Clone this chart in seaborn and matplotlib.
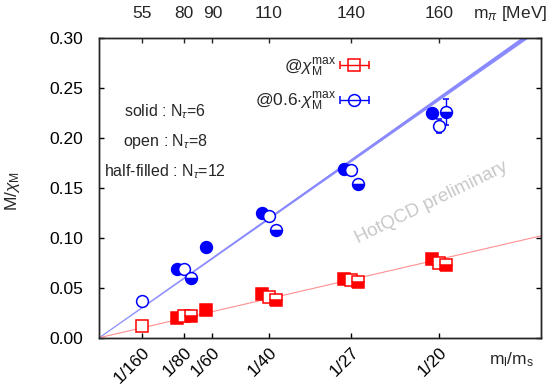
import numpy as np
import pandas as pd
import matplotlib
matplotlib.use("Agg")
import matplotlib.pyplot as plt
from matplotlib.container import ErrorbarContainer
from matplotlib.legend_handler import HandlerErrorbar
import seaborn as sns

# ---------------- data ----------------
ratio_labels = ["1/160", "1/80", "1/60", "1/40", "1/27", "1/20"]
ratio_values = [1/160, 1/80, 1/60, 1/40, 1/27, 1/20]
mpi_labels = ["55", "80", "90", "110", "140", "160"]

# @0.6 chi_M^max (blue circles)
blue_nt6_x = [1/80, 1/60, 1/40, 1/27, 1/20]
blue_nt6_y = [0.0684, 0.0904, 0.1244, 0.1687, 0.2244]
blue_nt6_e = [0.002, 0.002, 0.002, 0.002, 0.002]
blue_nt8_x = [1/160, 1/80, 1/40, 1/27, 1/20]
blue_nt8_y = [0.037, 0.0684, 0.122, 0.1677, 0.212]
blue_nt8_e = [0.003, 0.003, 0.003, 0.003, 0.007]
blue_nt12_x = [1/80, 1/40, 1/27, 1/20]
blue_nt12_y = [0.0594, 0.1077, 0.1537, 0.226]
blue_nt12_e = [0.003, 0.003, 0.003, 0.013]

# @chi_M^max (red squares)
red_nt6_x = [1/80, 1/60, 1/40, 1/27, 1/20]
red_nt6_y = [0.020, 0.0277, 0.0434, 0.059, 0.0784]
red_nt6_e = [0.001, 0.001, 0.001, 0.001, 0.001]
red_nt8_x = [1/160, 1/80, 1/40, 1/27, 1/20]
red_nt8_y = [0.012, 0.022, 0.041, 0.0577, 0.075]
red_nt8_e = [0.002, 0.002, 0.002, 0.002, 0.002]
red_nt12_x = [1/80, 1/40, 1/27, 1/20]
red_nt12_y = [0.022, 0.0377, 0.056, 0.073]
red_nt12_e = [0.002, 0.002, 0.002, 0.002]

# linear fits through the origin
blue_fit_slope = 4.79
blue_fit_band = 0.009    # relative half-width of band
red_fit_slope = 1.565

# ---------------- style ----------------
sns.set_style("ticks")
plt.rcParams["font.family"] = ["Liberation Sans", "DejaVu Sans"]
plt.rcParams["mathtext.fontset"] = "custom"
plt.rcParams["mathtext.rm"] = "Liberation Sans"
plt.rcParams["mathtext.it"] = "Liberation Sans:italic"
plt.rcParams["mathtext.sf"] = "Liberation Sans"

BLUE = "#0000ff"
RED = "#ff0000"
DODGE = 0.001
FS = 12.5

fig = plt.figure(figsize=(5.55, 3.85), dpi=100)
ax = fig.add_axes([0.179, 0.1229, 0.795, 0.7792])

# fit lines
fit_x = np.linspace(0, 0.065, 100)
fit_df = pd.DataFrame({"x": fit_x,
                       "blue": blue_fit_slope * fit_x,
                       "red": red_fit_slope * fit_x})
ax.fill_between(fit_x, fit_df["blue"] * (1 - blue_fit_band),
                fit_df["blue"] * (1 + blue_fit_band),
                color="#8080ff", alpha=0.9, lw=0, zorder=1)
sns.lineplot(data=fit_df, x="x", y="blue", ax=ax, color="#8888ff",
             lw=0.8, zorder=1)
sns.lineplot(data=fit_df, x="x", y="red", ax=ax, color="#ff9090",
             lw=0.8, zorder=1)

ms_c = 8.5
ms_s = 8.0


def draw(xs, ys, es, off, color, marker, kind):
    xs = np.asarray(xs) + off
    kw = dict(fmt=marker, color=color, ecolor=color, elinewidth=1.0,
              capsize=2.5, capthick=1.0, markersize=ms_c if marker == "o" else ms_s,
              markeredgewidth=1.1, zorder=3)
    if kind == "solid":
        kw.update(mfc=color, mec=color)
    elif kind == "open":
        kw.update(mfc="white", mec=color)
    else:
        kw.update(mfc=color, mec=color, fillstyle="bottom",
                  markerfacecoloralt="white")
    ax.errorbar(xs, ys, yerr=es, **kw)


draw(red_nt6_x, red_nt6_y, red_nt6_e, -DODGE, RED, "s", "solid")
draw(red_nt8_x, red_nt8_y, red_nt8_e, 0, RED, "s", "open")
draw(red_nt12_x, red_nt12_y, red_nt12_e, DODGE, RED, "s", "half")
draw(blue_nt6_x, blue_nt6_y, blue_nt6_e, -DODGE, BLUE, "o", "solid")
draw(blue_nt8_x, blue_nt8_y, blue_nt8_e, 0, BLUE, "o", "open")
draw(blue_nt12_x, blue_nt12_y, blue_nt12_e, DODGE, BLUE, "o", "half")

# legend proxies
h1 = ax.errorbar([np.nan], [np.nan], xerr=[np.nan], fmt="s", color=RED,
                 mfc="none", mec=RED, markersize=ms_s, capsize=3,
                 elinewidth=1.0, mew=1.1, label=r"@$\chi_{\mathrm{M}}^{\mathrm{max}}$")
h2 = ax.errorbar([np.nan], [np.nan], xerr=[np.nan], fmt="o", color=BLUE,
                 mfc="none", mec=BLUE, markersize=ms_c, capsize=3,
                 elinewidth=1.0, mew=1.1,
                 label=r"@0.6$\cdot\chi_{\mathrm{M}}^{\mathrm{max}}$")
leg = ax.legend(handles=[h1, h2], loc="upper right",
                bbox_to_anchor=(0.627, 0.962), frameon=False,
                markerfirst=False, fontsize=FS, handlelength=1.7,
                labelspacing=0.7, handletextpad=0.15, borderaxespad=0,
                handler_map={ErrorbarContainer: HandlerErrorbar(xerr_size=0.85)})

# axes
ax.set_xlim(0, 0.065)
ax.set_ylim(0, 0.30)
ax.set_xticks(ratio_values)
ax.set_xticklabels(ratio_labels, rotation=45, ha="right", va="top",
                   rotation_mode="anchor")
yt = [0.0, 0.05, 0.10, 0.15, 0.20, 0.25, 0.30]
ax.set_yticks(yt)
ax.set_yticklabels([f"{v:.2f}" for v in yt])
ax.tick_params(axis="both", direction="in", length=3.6, width=1.0,
               labelsize=FS, colors="black")
ax.tick_params(axis="y", right=True, pad=11.5)
ax.tick_params(axis="x", pad=5)
for s in ax.spines.values():
    s.set_linewidth(1.0)
    s.set_color("black")
    s.set_visible(True)
ax.set_xlabel("")
ax.set_ylabel(r"M/$\chi_{\mathrm{M}}$", fontsize=FS)
ax.yaxis.set_label_coords(-0.175, 0.49)

ax_top = ax.twiny()
ax_top.set_xlim(ax.get_xlim())
ax_top.set_xticks(ratio_values)
ax_top.set_xticklabels(mpi_labels)
ax_top.tick_params(axis="x", direction="in", length=3.6, width=1.0,
                   labelsize=FS, pad=12)
for s in ax_top.spines.values():
    s.set_linewidth(1.0)

ax.text(0.934, -0.074, r"m$_\mathrm{l}$/m$_\mathrm{s}$", transform=ax.transAxes,
        ha="center", va="center", fontsize=FS)
ax.text(0.930, 1.082, r"m$_\pi$ [MeV]", transform=ax.transAxes,
        ha="center", va="center", fontsize=FS)

# annotations
for yy, txt in [(0.753, r"solid : N$_\tau$=6"),
                (0.653, r"open : N$_\tau$=8"),
                (0.553, r"half-filled : N$_\tau$=12")]:
    ax.text(0.149, yy, txt, transform=ax.transAxes, ha="center",
            va="center", fontsize=11.5)

ax.text(0.752, 0.449, "HotQCD preliminary", transform=ax.transAxes,
        ha="center", va="center", fontsize=13.5, color="#c8c8c8",
        rotation=26)

fig.savefig("out.png", dpi=100)
